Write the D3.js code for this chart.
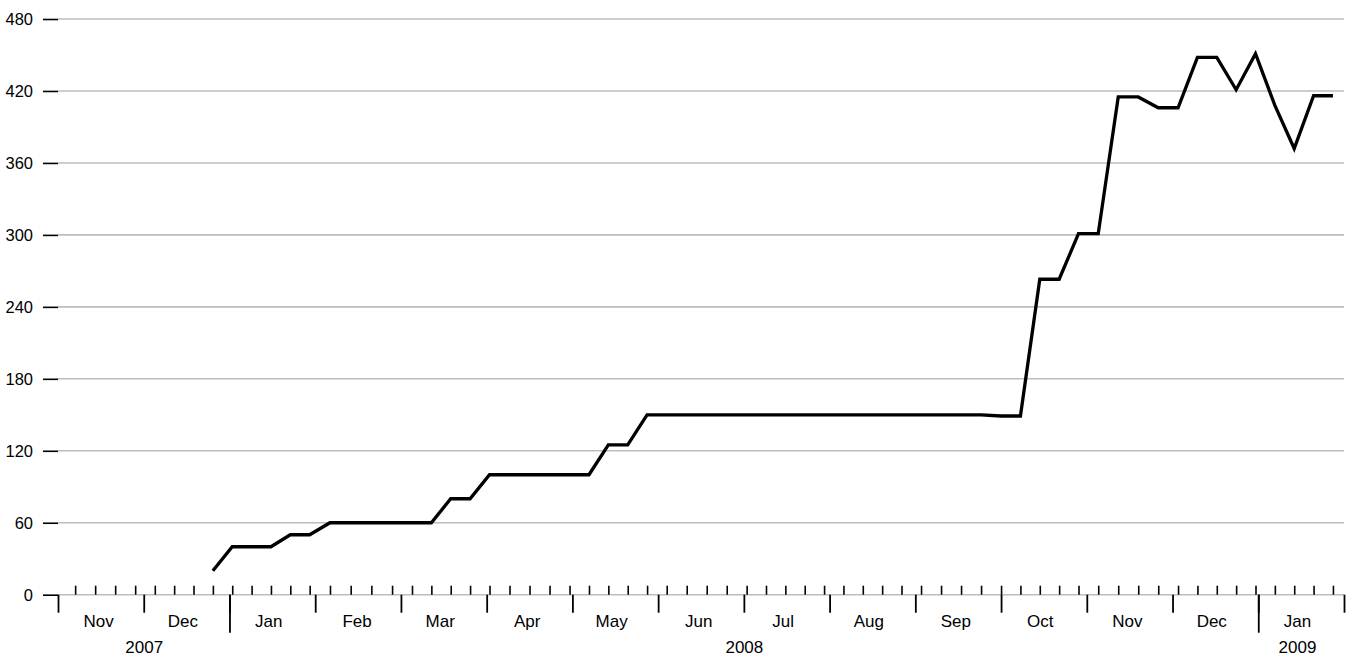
<!DOCTYPE html>
<html lang="en">
<head>
  <meta charset="UTF-8">
  <title>Weekly count</title>
  <style>
    body { margin: 0; background: #fff; }
    text { font-family: "Liberation Sans", Arial, Helvetica, sans-serif; fill: #000; }
  </style>
</head>
<body>
  <svg id="svg" width="1351" height="656"></svg>

  <script src="https://d3js.org/d3.v7.min.js"></script>
  <script>
    // weekly readings (Wednesdays)
    const weeks = [
      '2007-12-26',
      '2008-01-02', '2008-01-09', '2008-01-16', '2008-01-23', '2008-01-30',
      '2008-02-06', '2008-02-13', '2008-02-20', '2008-02-27',
      '2008-03-05', '2008-03-12', '2008-03-19', '2008-03-26',
      '2008-04-02', '2008-04-09', '2008-04-16', '2008-04-23', '2008-04-30',
      '2008-05-07', '2008-05-14', '2008-05-21', '2008-05-28',
      '2008-06-04', '2008-06-11', '2008-06-18', '2008-06-25',
      '2008-07-02', '2008-07-09', '2008-07-16', '2008-07-23', '2008-07-30',
      '2008-08-06', '2008-08-13', '2008-08-20', '2008-08-27',
      '2008-09-03', '2008-09-10', '2008-09-17', '2008-09-24',
      '2008-10-01', '2008-10-08', '2008-10-15', '2008-10-22', '2008-10-29',
      '2008-11-05', '2008-11-12', '2008-11-19', '2008-11-26',
      '2008-12-03', '2008-12-10', '2008-12-17', '2008-12-24', '2008-12-31',
      '2009-01-07', '2009-01-14', '2009-01-21', '2009-01-28'
    ]
    const values = [
      20,
      40, 40, 40, 50, 50,
      60, 60, 60, 60,
      60, 60, 80, 80,
      100, 100, 100, 100, 100,
      100, 125, 125, 150,
      150, 150, 150, 150,
      150, 150, 150, 150, 150,
      150, 150, 150, 150,
      150, 150, 150, 150,
      149, 149, 263, 263, 301,
      301, 415, 415, 406,
      406, 448, 448, 421, 451,
      408, 372, 416, 416
    ]

    // axis months (each month gets the same width)
    const months = [
      '2007-11-01', '2007-12-01', '2008-01-01', '2008-02-01', '2008-03-01',
      '2008-04-01', '2008-05-01', '2008-06-01', '2008-07-01', '2008-08-01',
      '2008-09-01', '2008-10-01', '2008-11-01', '2008-12-01', '2009-01-01',
      '2009-02-01'
    ]
    const yearStarts = ['2008-01-01', '2009-01-01']
    const yearLabels = [
      { date: '2007-12-01', label: '2007' },
      { date: '2008-07-01', label: '2008' },
      { date: '2009-01-15', label: '2009' }
    ]
    const yTicks = [0, 60, 120, 180, 240, 300, 360, 420, 480]

    const parse = d3.utcParse('%Y-%m-%d')
    const data = weeks.map((w, i) => ({ date: parse(w), value: values[i] }))
    const monthDates = months.map(parse)

    const margin = { left: 58, right: 1344, top: 19, bottom: 594.7 }

    // x scale: piecewise, one equal slot per month
    const step = (margin.right - margin.left) / (monthDates.length - 1)
    const xscale = d3.scaleUtc()
      .domain(monthDates)
      .range(monthDates.map((d, i) => margin.left + i * step))

    const yscale = d3.scaleLinear()
      .domain([0, 480])
      .range([margin.bottom, margin.top])

    const svg = d3.select('#svg')

    // grid lines
    svg.append('g')
      .selectAll('line')
      .data(yTicks)
      .enter()
      .append('line')
      .attr('x1', margin.left)
      .attr('x2', margin.right)
      .attr('y1', d => yscale(d))
      .attr('y2', d => yscale(d))
      .attr('stroke', '#bdbdbd')
      .attr('stroke-width', 1.6)

    // left axis
    const leftAxis = d3.axisLeft(yscale)
      .tickValues(yTicks)
      .tickSize(15)
      .tickPadding(10)
    const yg = svg.append('g')
      .attr('transform', `translate(${margin.left}, 0)`)
      .call(leftAxis)
    yg.select('.domain').remove()
    yg.selectAll('line').attr('stroke', '#000').attr('stroke-width', 1.6)
    yg.selectAll('text').style('font-size', '16.5px').attr('dy', '0.34em')

    // weekly ticks pointing up
    const wednesdays = d3.utcWednesday.range(monthDates[0], monthDates[monthDates.length - 1])
    const weekAxis = d3.axisBottom(xscale)
      .tickValues(wednesdays)
      .tickSize(-9)
      .tickFormat('')
    const wg = svg.append('g')
      .attr('transform', `translate(0, ${margin.bottom})`)
      .call(weekAxis)
    wg.select('.domain').remove()
    wg.selectAll('line').attr('stroke', '#000').attr('stroke-width', 1.6)

    // month ticks pointing down
    const monthAxis = d3.axisBottom(xscale)
      .tickValues(monthDates)
      .tickSize(18)
      .tickFormat('')
    const mg = svg.append('g')
      .attr('transform', `translate(0, ${margin.bottom})`)
      .call(monthAxis)
    mg.select('.domain').remove()
    mg.selectAll('line').attr('stroke', '#000').attr('stroke-width', 1.8)

    // year ticks, longer
    const yearAxis = d3.axisBottom(xscale)
      .tickValues(yearStarts.map(parse))
      .tickSize(38)
      .tickFormat('')
    const yrg = svg.append('g')
      .attr('transform', `translate(0, ${margin.bottom})`)
      .call(yearAxis)
    yrg.select('.domain').remove()
    yrg.selectAll('line').attr('stroke', '#000').attr('stroke-width', 1.8)

    // month labels at mid month
    const midMonths = monthDates.slice(0, -1).map(d => d3.utcDay.offset(d, 14))
    const monthLabelAxis = d3.axisBottom(xscale)
      .tickValues(midMonths)
      .tickSize(0)
      .tickPadding(0)
      .tickFormat(d3.utcFormat('%b'))
    const mlg = svg.append('g')
      .attr('transform', `translate(0, ${margin.bottom})`)
      .call(monthLabelAxis)
    mlg.select('.domain').remove()
    mlg.selectAll('text').style('font-size', '17px').attr('y', 32).attr('dy', 0)

    // year labels
    const yearLabelAxis = d3.axisBottom(xscale)
      .tickValues(yearLabels.map(d => parse(d.date)))
      .tickSize(0)
      .tickPadding(0)
      .tickFormat((d, i) => yearLabels[i].label)
    const ylg = svg.append('g')
      .attr('transform', `translate(0, ${margin.bottom})`)
      .call(yearLabelAxis)
    ylg.select('.domain').remove()
    ylg.selectAll('text').style('font-size', '17px').attr('y', 58.5).attr('dy', 0)

    // the line
    const line = d3.line()
      .x(d => xscale(d.date))
      .y(d => yscale(d.value))

    svg.append('path')
      .datum(data)
      .attr('d', line)
      .attr('fill', 'none')
      .attr('stroke', '#000')
      .attr('stroke-width', 3.3)
  </script>
</body>
</html>
